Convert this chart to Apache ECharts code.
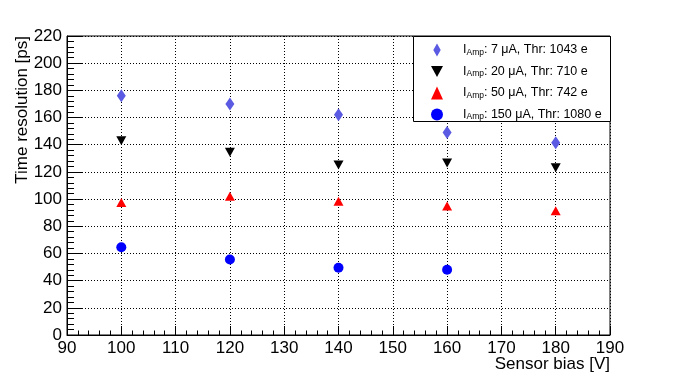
<!DOCTYPE html>
<html><head><meta charset="utf-8">
<script src="https://cdn.jsdelivr.net/npm/echarts@6/dist/echarts.min.js"></script>
<style>html,body{margin:0;padding:0;background:#fff}#c{width:678px;height:373px}</style>
</head><body><div id="c"></div>
<script>
var bias = [100, 120, 140, 160, 180];
var res7 = [176, 170, 162, 149, 141.5];
var res20 = [143, 134.5, 125, 126.5, 123];
var res50 = [97.5, 102, 98.5, 95, 91.5];
var bias150 = [100, 120, 140, 160];
var res150 = [64.5, 55.5, 49.5, 48];
var names = ['7 μA, Thr: 1043 e', '20 μA, Thr: 710 e', '50 μA, Thr: 742 e', '150 μA, Thr: 1080 e'];
var xTitle = 'Sensor bias [V]';
var yTitle = 'Time resolution [ps]';

var FONT = '"Liberation Sans", Arial, sans-serif';
var downTri = 'path://M0,0L10,0L5,9Z';
var diam = 'path://M4,0L8,7L4,14L0,7Z';
function pts(xs, ys){ return xs.map(function(x,i){ return [x, ys[i]]; }); }

var chart = echarts.init(document.getElementById('c'), null, {renderer:'canvas'});
var axisCommon = {
  axisLine:{show:true,onZero:false,lineStyle:{color:'#000',width:1}},
  splitLine:{show:true,lineStyle:{color:'#000',width:1,type:[1,2]}}
};
chart.setOption({
  animation:false,
  grid:{left:67,right:68,top:36,bottom:38,show:true,borderColor:'#000',borderWidth:1,backgroundColor:'transparent'},
  xAxis:Object.assign({}, axisCommon, {
    type:'value',min:90,max:190,interval:10,
    axisTick:{show:true,inside:true,length:9,lineStyle:{color:'#000'}},
    minorTick:{show:true,splitNumber:5,length:4.5,lineStyle:{color:'#000'}},
    axisLabel:{color:'#000',fontSize:17,fontFamily:FONT,margin:5}
  }),
  yAxis:Object.assign({}, axisCommon, {
    type:'value',min:0,max:220,interval:20,
    axisTick:{show:true,inside:true,length:15,lineStyle:{color:'#000'}},
    minorTick:{show:true,splitNumber:5,length:7,lineStyle:{color:'#000'}},
    axisLabel:{color:'#000',fontSize:17,fontFamily:FONT,margin:5}
  }),
  legend:{
    orient:'vertical',left:413,top:39,padding:[2,0,0,18],itemGap:5.5,
    itemWidth:12,itemHeight:13,z:5,
    data:[
      {name:names[0],icon:diam},
      {name:names[1],icon:downTri},
      {name:names[2],icon:'triangle'},
      {name:names[3],icon:'circle'}
    ],
    formatter:function(n){ return '{a|I}{b|Amp}{a|: '+n+'}'; },
    textStyle:{
      color:'#000',fontFamily:FONT,padding:[0,0,0,15],
      rich:{
        a:{fontSize:12.5,fontFamily:FONT,color:'#000',lineHeight:14,verticalAlign:'middle'},
        b:{fontSize:8.5,fontFamily:FONT,color:'#000',lineHeight:14,verticalAlign:'bottom',padding:[7,0,0,0]}
      }
    }
  },
  graphic:[
    {type:'rect',left:413,top:36,z:4,shape:{width:197,height:85},style:{fill:'#fff',stroke:'#000',lineWidth:1},silent:true},
    {type:'text',x:22,y:36,rotation:Math.PI/2,style:{text:yTitle,font:'17px '+FONT,fill:'#000',textAlign:'right',textVerticalAlign:'middle'}},
    {type:'text',x:610,y:364,style:{text:xTitle,font:'17px '+FONT,fill:'#000',textAlign:'right',textVerticalAlign:'middle'}}
  ],
  series:[
    {name:names[0],type:'scatter',data:pts(bias,res7),symbol:diam,symbolKeepAspect:false,symbolSize:[9,13],itemStyle:{color:'#5a5ae2',opacity:1}},
    {name:names[1],type:'scatter',data:pts(bias,res20),symbol:downTri,symbolSize:[10,9],itemStyle:{color:'#000',opacity:1}},
    {name:names[2],type:'scatter',data:pts(bias,res50),symbol:'triangle',symbolSize:[10,9],itemStyle:{color:'#ff0000',opacity:1}},
    {name:names[3],type:'scatter',data:pts(bias150,res150),symbol:'circle',symbolSize:10,itemStyle:{color:'#0000ff',opacity:1}}
  ]
});
</script></body></html>
